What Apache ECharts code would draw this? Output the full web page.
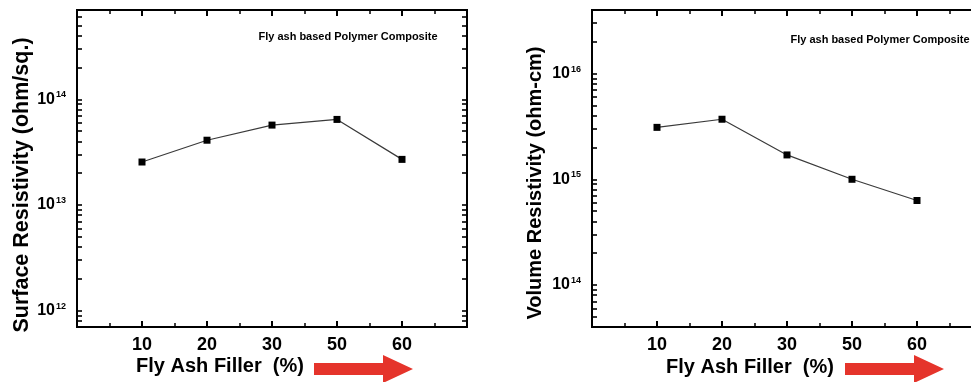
<!DOCTYPE html>
<html>
<head>
<meta charset="utf-8">
<script src="https://cdn.jsdelivr.net/npm/echarts@6/dist/echarts.min.js"></script>
<style>
  html, body { margin: 0; padding: 0; background: #fff; }
  #chart { width: 971px; height: 382px; }
</style>
</head>
<body>
<div id="chart"></div>
<script>
// Fly ash filler loadings (%) along the x axes
const fillerLabels = ['10', '20', '30', '50', '60'];
// Surface resistivity (ohm/sq.) for each loading
const surfaceResistivity = [2.55e13, 4.1e13, 5.7e13, 6.45e13, 2.7e13];
// Volume resistivity (ohm-cm) for each loading
const volumeResistivity = [3.1e15, 3.7e15, 1.7e15, 1.0e15, 6.3e14];
// Labelled decades (exponents) on each log axis
const surfaceDecades = [12, 13, 14];
const volumeDecades = [14, 15, 16];
// Visible ranges of the log axes
const surfaceRange = [7e11, 7e14];
const volumeRange = [4e13, 4e16];

const FONT = '"Liberation Sans", Arial, Helvetica, sans-serif';

// Loadings sit at positions 1..n on a 0..n+1 axis
const toPoints = vals => vals.map((v, i) => [i + 1, v]);

// Tick positions (k x 10^n, k = 1..9) in log10 space
function logTicks(range) {
  const lo = Math.log10(range[0]), hi = Math.log10(range[1]);
  const out = [];
  for (let n = Math.floor(lo); n <= Math.ceil(hi); n++) {
    for (let k = 1; k <= 9; k++) {
      const v = n + Math.log10(k);
      if (v > lo && v < hi) out.push(v);
    }
  }
  return out;
}

function xAxes(gridIndex) {
  const base = {
    type: 'value', gridIndex, min: 0, max: fillerLabels.length + 1, interval: 1,
    axisLine: { show: false, onZero: false },
    axisTick: { show: true, inside: true, length: 6, lineStyle: { color: '#000', width: 2 } },
    minorTick: { show: true, splitNumber: 2, length: 4, lineStyle: { color: '#000', width: 1.5 } },
    splitLine: { show: false }, minorSplitLine: { show: false }
  };
  return [
    Object.assign({}, base, {
      position: 'bottom',
      axisLabel: {
        show: true, margin: 9, color: '#000', fontSize: 18, fontWeight: 'bold', fontFamily: FONT,
        formatter: v => (v >= 1 && v <= fillerLabels.length) ? fillerLabels[v - 1] : ''
      }
    }),
    Object.assign({}, base, { position: 'top', axisLabel: { show: false } })
  ];
}

function yAxes(gridIndex, range, decades) {
  const lo = Math.log10(range[0]), hi = Math.log10(range[1]);
  const ticks = logTicks(range);
  const tickAxis = (position, withLabels) => ({
    type: 'value', gridIndex, position, min: lo, max: hi,
    axisLine: { show: false, onZero: false },
    splitLine: { show: false },
    axisTick: {
      show: true, inside: true, length: 5,
      customValues: ticks,
      lineStyle: { color: '#000', width: 1.6 }
    },
    axisLabel: withLabels ? {
      show: true, margin: 11, customValues: decades,
      formatter: v => '{b|10}{s|' + Math.round(v) + '}',
      rich: {
        b: { fontSize: 16, fontWeight: 'bold', color: '#000', fontFamily: FONT },
        s: { fontSize: 9, fontWeight: 'bold', color: '#000', fontFamily: FONT, verticalAlign: 'top', padding: [0, 0, 9, 1] }
      }
    } : { show: false }
  });
  return [
    // logarithmic axis the data is plotted against
    { type: 'log', gridIndex, position: 'left', min: range[0], max: range[1], show: false, axisLine: { onZero: false } },
    tickAxis('left', true),
    tickAxis('right', false)
  ];
}

const gridStyle = { show: true, borderColor: '#000', borderWidth: 2, backgroundColor: 'transparent', outerBoundsMode: 'none', containLabel: false };

function lineSeries(name, vals, axisBase) {
  return {
    type: 'line', name,
    xAxisIndex: axisBase.x, yAxisIndex: axisBase.y,
    data: toPoints(vals),
    symbol: 'rect', symbolSize: 7,
    itemStyle: { color: '#000' },
    lineStyle: { color: '#3a3a3a', width: 1.2 },
    z: 5
  };
}

function arrow(x0, y) {
  return {
    type: 'polygon',
    shape: { points: [[x0, y - 6], [x0 + 69, y - 6], [x0 + 69, y - 14], [x0 + 99, y], [x0 + 69, y + 14], [x0 + 69, y + 6], [x0, y + 6]] },
    style: { fill: '#e5342b' }
  };
}

function text(x, y, str, size, rotate) {
  return {
    type: 'text', x, y, rotation: rotate ? Math.PI / 2 : 0,
    style: { text: str, fill: '#000', fontSize: size, fontWeight: 'bold', fontFamily: FONT, align: 'center', verticalAlign: 'middle' }
  };
}

const chart = echarts.init(document.getElementById('chart'), null, { renderer: 'canvas' });
chart.setOption({
  animation: false,
  backgroundColor: '#fff',
  grid: [
    Object.assign({ left: 77, top: 10, width: 390, height: 317 }, gridStyle),
    Object.assign({ left: 592, top: 10, width: 390, height: 317 }, gridStyle)
  ],
  xAxis: [...xAxes(0), ...xAxes(1)],
  yAxis: [...yAxes(0, surfaceRange, surfaceDecades), ...yAxes(1, volumeRange, volumeDecades)],
  series: [
    lineSeries('Surface Resistivity', surfaceResistivity, { x: 0, y: 0 }),
    lineSeries('Volume Resistivity', volumeResistivity, { x: 2, y: 3 })
  ],
  graphic: [
    text(22, 185, 'Surface Resistivity (ohm/sq.)', 21.5, true),
    text(535, 183, 'Volume Resistivity (ohm-cm)', 20, true),
    text(220, 366, 'Fly Ash Filler  (%)', 20, false),
    text(750, 367, 'Fly Ash Filler  (%)', 20, false),
    text(348, 37, 'Fly ash based Polymer Composite', 11, false),
    text(880, 40, 'Fly ash based Polymer Composite', 11, false),
    arrow(314, 369),
    arrow(845, 369)
  ]
});
</script>
</body>
</html>
